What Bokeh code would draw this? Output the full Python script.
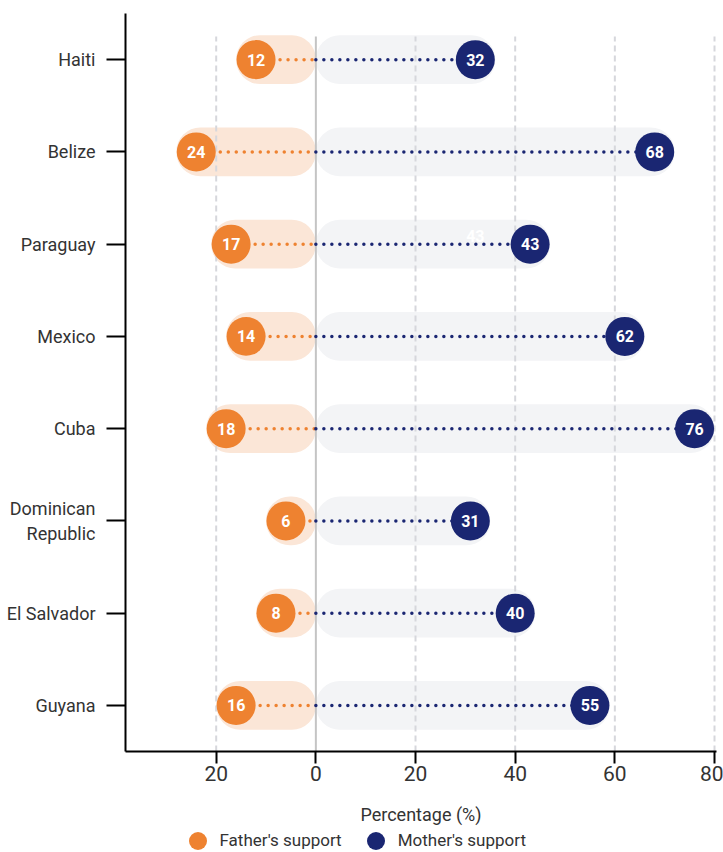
from bokeh.plotting import figure
from bokeh.layouts import column
from bokeh.models import FactorRange, Range1d, FixedTicker, Legend, LegendItem
from bokeh.core.properties import value
from bokeh.embed import file_html
from bokeh.resources import INLINE

# ---- data ----
countries = ["Haiti", "Belize", "Paraguay", "Mexico", "Cuba",
             "Dominican\nRepublic", "El Salvador", "Guyana"]
father = [12, 24, 17, 14, 18, 6, 8, 16]
mother = [32, 68, 43, 62, 76, 31, 40, 55]
x_ticks = [-20, 0, 20, 40, 60, 80]
x_tick_labels = ["20", "0", "20", "40", "60", "80"]
series_names = ["Father's support", "Mother's support"]
x_label = "Percentage (%)"

# ---- style ----
ORANGE = "#EE8230"
NAVY = "#1A2672"
PEACH = "#FBE6D7"
PALE = "#F3F4F6"
GRID = "#D6D7DC"
ZERO = "#C4C4C4"
TEXT = "#333333"
FONT = "Roboto"
PAD = 4  # bar extends this many units past the marker

factors = list(reversed(countries))

p = figure(width=723, height=827,
           y_range=FactorRange(factors=factors, range_padding=0),
           x_range=Range1d(-38.2, 80.4),
           output_backend="svg", toolbar_location=None,
           min_border_left=125, min_border_top=13,
           min_border_bottom=76, min_border_right=7)
p.outline_line_color = None
p.xgrid.visible = False
p.ygrid.visible = False
p.background_fill_color = "white"

# background pills
p.hbar(y=countries, left=[-(f + PAD) for f in father], right=0, height=0.53,
       fill_color=PEACH, line_color=None, border_radius=24)
p.hbar(y=countries, left=0, right=[m + PAD for m in mother], height=0.53,
       fill_color=PALE, line_color=None, border_radius=24)

# grid lines
grid_x = [t for t in x_ticks if t != 0]
n = len(grid_x)
y_bottom = (factors[0], -0.5)
y_top = (factors[-1], 0.25)
p.segment(x0=grid_x, x1=grid_x, y0=[y_bottom] * n, y1=[y_top] * n,
          line_color=GRID, line_width=2, line_dash="6 4")
p.segment(x0=[0], x1=[0], y0=[y_bottom], y1=[y_top],
          line_color=ZERO, line_width=2)

# ghost label
p.text(x=[mother[2] - 11], y=[(countries[2], 0.09)], text=[str(mother[2])],
       text_color="white", text_font=value(FONT), text_font_style="bold",
       text_font_size="16px", text_align="center", text_baseline="middle")

# dotted connectors
p.segment(x0=[-f for f in father], x1=0, y0=countries, y1=countries,
          line_color=ORANGE, line_width=3.5, line_dash="0 8", line_cap="round")
p.segment(x0=0, x1=mother, y0=countries, y1=countries,
          line_color=NAVY, line_width=3.5, line_dash="0 8", line_cap="round")

# markers
p.scatter(x=[-f for f in father], y=countries, size=39,
          fill_color=ORANGE, line_color=None)
p.scatter(x=mother, y=countries, size=39,
          fill_color=NAVY, line_color=None)

for xs, vals in (([-f for f in father], father), (mother, mother)):
    p.text(x=xs, y=countries, text=[str(v) for v in vals],
           text_color="white", text_font=value(FONT), text_font_style="bold",
           text_font_size="16px", text_align="center", text_baseline="middle")

# axes
xa = p.xaxis[0]
xa.ticker = FixedTicker(ticks=x_ticks, minor_ticks=[])
xa.major_label_overrides = {t: l for t, l in zip(x_ticks, x_tick_labels)}
xa.axis_label = x_label
xa.axis_label_text_font = FONT
xa.axis_label_text_font_style = "normal"
xa.axis_label_text_font_size = "18px"
xa.axis_label_text_color = TEXT
xa.axis_label_standoff = 20
xa.major_label_text_font = FONT
xa.major_label_text_font_size = "21px"
xa.major_label_text_color = TEXT
xa.major_label_standoff = 2
xa.major_tick_in = 0
xa.major_tick_out = 12
xa.major_tick_line_width = 2
xa.major_tick_line_color = "black"
xa.axis_line_width = 2
xa.axis_line_color = "black"

ya = p.yaxis[0]
ya.major_label_text_font = FONT
ya.major_label_text_font_size = "18px"
ya.major_label_text_color = TEXT
ya.major_label_standoff = 11
ya.major_tick_in = 0
ya.major_tick_out = 19
ya.major_tick_line_width = 2
ya.major_tick_line_color = "black"
ya.axis_line_width = 2
ya.axis_line_color = "black"

# ---- legend strip below the chart ----
lf = figure(width=723, height=25, x_range=Range1d(0, 1), y_range=Range1d(0, 1),
            x_axis_type=None, y_axis_type=None,
            output_backend="svg", toolbar_location=None,
            min_border=0, min_border_left=0, min_border_right=0,
            min_border_top=0, min_border_bottom=0)
lf.outline_line_color = None
lf.background_fill_color = "white"
# swatch renderers sit outside the strip's visible range; only the legend shows them
lg_f = lf.scatter(x=[-5], y=[0.5], size=18, fill_color=ORANGE, line_color=None)
lg_m = lf.scatter(x=[-5], y=[0.5], size=18, fill_color=NAVY, line_color=None)

legend = Legend(items=[LegendItem(label=series_names[0], renderers=[lg_f]),
                       LegendItem(label=series_names[1], renderers=[lg_m])],
                orientation="horizontal", location=(49.5, -10.5),
                glyph_width=45, glyph_height=45, label_standoff=0,
                spacing=11, padding=0, margin=0,
                border_line_alpha=0, background_fill_alpha=0,
                label_text_font=FONT, label_text_font_size="17px",
                label_text_color=TEXT)
lf.add_layout(legend)

layout = column(p, lf, spacing=0)
open("out.html", "w").write(file_html(layout, INLINE))
